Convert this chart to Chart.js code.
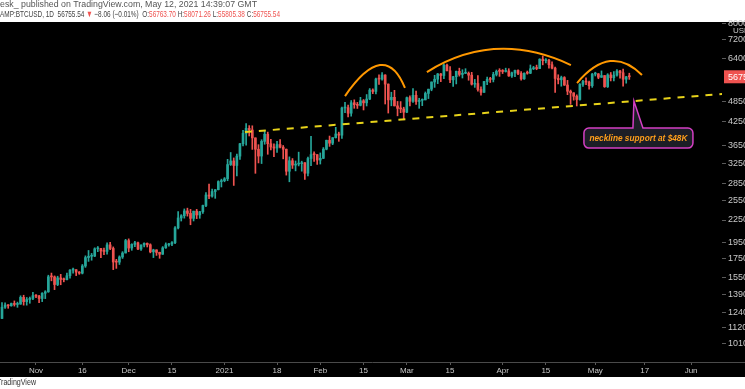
<!DOCTYPE html>
<html>
<head>
<meta charset="utf-8">
<script src="https://cdn.jsdelivr.net/npm/chart.js@4.4.0/dist/chart.umd.min.js"></script>
<style>
  html, body { margin: 0; padding: 0; background: #fff; }
</style>
</head>
<body>
<canvas id="btc" width="745" height="389"></canvas>
<script>
// daily BTCUSD candles 21 Oct 2020 .. 12 May 2021, x = days since 1 Nov 2020
const firstDay = -11;

const opens = [
  11915, 12810, 12990, 12930, 13120, 13040, 13070, 13650, 13280, 13460, 13560,
  13800, 13760, 13550, 14020, 14150, 15590, 15580, 14830, 15480, 15330, 15300, 15700, 16280, 16320, 16070, 15960, 16720, 17650, 17800, 17820, 18680, 18710, 18420, 18370, 19160, 18720, 17150, 17140, 17720, 18180,
  19700, 18770, 19220, 19420, 18650, 19150, 19360, 19170, 18320, 18550, 18250, 18040, 18800, 19170, 19270, 19440, 21380, 22800, 23130, 23860, 23480, 22740, 23820, 23240, 23730, 24710, 26440, 26250, 27040, 27370, 28840,
  29000, 29370, 32190, 32950, 32000, 33990, 36820, 39370, 40670, 40240, 38240, 35540, 34010, 37390, 39160, 36830, 36070, 35810, 36630, 36020, 35540, 30830, 33000, 32080, 32280, 32370, 32570, 30440, 33470, 34320, 34310,
  33140, 33520, 35560, 37660, 36960, 38300, 39220, 38920, 46390, 46480, 44850, 47990, 47400, 47190, 48610, 47960, 49150, 52090, 51620, 55950, 55900, 57410, 54130, 48890, 49710, 47030, 46280, 46110,
  45140, 49600, 48440, 50350, 48370, 48750, 48880, 50970, 52380, 54880, 55860, 57800, 57230, 61180, 59000, 55650, 56780, 58780, 57630, 58050, 58060, 57350, 54100, 54340, 52300, 51320, 55030, 55850, 55790, 57620, 58800,
  58780, 58730, 58960, 57060, 58200, 59130, 57990, 56000, 58090, 58080, 59770, 60000, 59860, 63580, 62960, 63160, 61340, 60010, 56150, 55660, 56470, 53800, 51700, 51160, 50050, 49000, 54020, 55040, 54840, 53560,
  57750, 57830, 56570, 57200, 53250, 57440, 56400, 57360, 58900, 58240, 55860, 56763.70
];
const highs = [
  13200, 13180, 13020, 13160, 13340, 13240, 13790, 13840, 13640, 13680, 14100,
  13900, 13820, 14070, 14250, 15750, 15970, 15680, 15650, 15840, 15470, 15960, 16340, 16480, 16330, 16130, 16880, 17850, 18480, 18130, 18800, 18960, 18750, 18770, 19410, 19480, 18910, 17450, 17850, 18340, 19860,
  19920, 19300, 19590, 19520, 19170, 19420, 19400, 19290, 18630, 18560, 18280, 18950, 19410, 19350, 19570, 21550, 23770, 23290, 24170, 24290, 24100, 23830, 24100, 23800, 24790, 26860, 28390, 27470, 27380, 28990, 29300,
  29600, 33300, 34800, 33600, 34440, 36940, 40180, 41950, 41400, 41350, 38260, 36600, 37790, 40100, 39700, 37900, 36800, 37400, 37850, 36410, 35600, 33830, 33460, 32950, 34880, 32900, 32590, 33800, 38600, 34950, 34340,
  34700, 35930, 37700, 38700, 38320, 40950, 39690, 46700, 48150, 47250, 48680, 48900, 48100, 49700, 49000, 50600, 52600, 52500, 56300, 57500, 58350, 57500, 54200, 51360, 52000, 48400, 48350, 46630,
  49800, 50200, 52600, 51750, 49400, 49200, 51450, 52400, 54900, 57300, 58000, 58000, 61700, 61600, 60600, 56900, 58900, 60000, 59400, 59800, 58550, 58400, 55800, 57200, 53200, 55100, 56600, 56550, 58400, 59300, 59800,
  59450, 60000, 59800, 58500, 59250, 59400, 58650, 58200, 58900, 61250, 60700, 61200, 63750, 64900, 63800, 63550, 62500, 60400, 57500, 57000, 56800, 55450, 52100, 51200, 50500, 54300, 55450, 56400, 55200, 58000,
  58450, 57950, 58950, 57200, 57900, 58350, 58650, 59500, 59200, 59600, 56900, 58071.26
];
const lows = [
  11900, 12700, 12720, 12890, 12900, 12800, 13050, 12980, 12980, 13140, 13450,
  13620, 13200, 13280, 13540, 14100, 15190, 14350, 14720, 14810, 15090, 15280, 15450, 15960, 15710, 15840, 15880, 16570, 17220, 17350, 17760, 18340, 17630, 18000, 18030, 18580, 16330, 16460, 16880, 17550, 18180,
  18330, 18500, 18940, 18580, 18500, 18900, 18900, 18200, 17650, 17900, 17570, 18010, 18730, 19000, 19050, 19300, 21230, 22350, 22770, 23070, 21820, 22360, 22700, 22750, 23460, 24520, 25830, 26070, 25880, 27320, 27850,
  28800, 29000, 32000, 28130, 29900, 33300, 36310, 36500, 38720, 35500, 30420, 32530, 32400, 36700, 34400, 35400, 33850, 34800, 35850, 33400, 30070, 28800, 31390, 30900, 31910, 30840, 29240, 29900, 31980, 32860, 32220,
  32300, 33450, 35400, 36200, 36600, 38200, 37400, 38100, 45000, 43760, 44000, 46300, 46250, 47020, 45800, 47000, 48950, 50900, 50800, 54000, 55500, 47600, 44900, 47050, 47000, 44100, 45000, 43000,
  45000, 47050, 48100, 47500, 46300, 47100, 48880, 49300, 51850, 53000, 54300, 55000, 56100, 58950, 54600, 53300, 54200, 57000, 56300, 57900, 55500, 53800, 53000, 51700, 50400, 51300, 53950, 54700, 54900, 57050, 56900,
  57950, 58500, 56900, 56500, 56800, 57500, 55500, 55800, 57700, 57900, 59450, 59400, 59800, 61300, 62050, 60000, 59700, 51300, 54200, 53400, 53650, 50550, 47500, 48800, 47000, 48800, 53300, 53900, 52350, 53000,
  57050, 56050, 56500, 53000, 52950, 55250, 55300, 56950, 56250, 53400, 54450, 55805.38
];
const closes = [
  12810, 12990, 12930, 13120, 13040, 13070, 13650, 13280, 13460, 13560, 13800,
  13760, 13550, 14020, 14150, 15590, 15580, 14830, 15480, 15330, 15300, 15700, 16280, 16320, 16070, 15960, 16720, 17650, 17800, 17820, 18680, 18710, 18420, 18370, 19160, 18720, 17150, 17140, 17720, 18180, 19700,
  18770, 19220, 19420, 18650, 19150, 19360, 19170, 18320, 18550, 18250, 18040, 18800, 19170, 19270, 19440, 21380, 22800, 23130, 23860, 23480, 22740, 23820, 23240, 23730, 24710, 26440, 26250, 27040, 27370, 28840, 29000,
  29370, 32190, 32950, 32000, 33990, 36820, 39370, 40670, 40240, 38240, 35540, 34010, 37390, 39160, 36830, 36070, 35810, 36630, 36020, 35540, 30830, 33000, 32080, 32280, 32370, 32570, 30440, 33470, 34320, 34310, 33140,
  33520, 35560, 37660, 36960, 38300, 39220, 38920, 46390, 46480, 44850, 47990, 47400, 47190, 48610, 47960, 49150, 52090, 51620, 55950, 55900, 57410, 54130, 48890, 49710, 47030, 46280, 46110, 45140,
  49600, 48440, 50350, 48370, 48750, 48880, 50970, 52380, 54880, 55860, 57800, 57230, 61180, 59000, 55650, 56780, 58780, 57630, 58050, 58060, 57350, 54100, 54340, 52300, 51320, 55030, 55850, 55790, 57620, 58800, 58780,
  58730, 58960, 57060, 58200, 59130, 57990, 56000, 58090, 58080, 59770, 60000, 59860, 63580, 62960, 63160, 61340, 60010, 56150, 55660, 56470, 53800, 51700, 51160, 50050, 49000, 54020, 55040, 54840, 53560, 57750,
  57830, 56570, 57200, 53250, 57440, 56400, 57360, 58900, 58240, 55860, 56760, 56755.54
];

const tickDays = [0, 15, 30, 44, 61, 78, 92, 106, 120, 134, 151, 165, 181, 197, 212];
const tickLabels = ["Nov", "16", "Dec", "15", "2021", "18", "Feb", "15", "Mar", "15", "Apr", "15", "May", "17", "Jun"];
const priceTicks = [80000, 72000, 64000, 48500, 42500, 36500, 32500, 28500, 25500, 22500, 19500, 17500, 15500, 13900, 12400, 11200, 10100];

// drawings on the chart (day, price)
const necklinePts = [{ x: 67.6, y: 39700 }, { x: 222.3, y: 50800 }];
const domes = [
  [[100, 50100], [111.3, 61200], [119.4, 52800]],
  [[126.5, 58500], [149.2, 67900], [173.1, 61200]],
  [[175.1, 54500], [185.8, 62800], [196.1, 57400]]
];
const calloutAt = { x: 193.5, y: 48500 };
const calloutText = "neckline support at $48K";

const UP = "#26a69a", DOWN = "#ef5350";
const FONT = "Liberation Sans, Arial, sans-serif";

const days = opens.map((_, i) => firstDay + i);
const candleColors = closes.map((c, i) => c >= opens[i] ? UP : DOWN);

function drawRuns(ctx, runs, x0, y, width) {
  let total = 0;
  runs.forEach(r => total += ctx.measureText(r[0]).width);
  const s = width / total;
  ctx.save();
  ctx.translate(x0, y);
  ctx.scale(s, 1);
  let x = 0;
  runs.forEach(r => {
    ctx.fillStyle = r[1];
    ctx.fillText(r[0], x, 0);
    x += ctx.measureText(r[0]).width;
  });
  ctx.restore();
}

const decor = {
  id: "decor",
  beforeDraw(chart) {
    const { ctx, width, height } = chart;
    ctx.save();
    ctx.fillStyle = "#ffffff";
    ctx.fillRect(0, 0, width, height);
    ctx.fillStyle = "#000000";
    ctx.fillRect(0, 22, width, 355);
    ctx.restore();
  },
  afterDatasetsDraw(chart) {
    const { ctx, chartArea } = chart;
    const xs = chart.scales.x, ys = chart.scales.y;
    ctx.save();
    ctx.beginPath();
    ctx.rect(chartArea.left, chartArea.top, chartArea.right - chartArea.left, chartArea.bottom - chartArea.top);
    ctx.clip();

    // orange domes
    ctx.strokeStyle = "#ff9800";
    ctx.lineWidth = 2;
    domes.forEach(d => {
      const p = d.map(q => [xs.getPixelForValue(q[0]), ys.getPixelForValue(q[1])]);
      const cx = (4 * p[1][0] - p[0][0] - p[2][0]) / 2;
      const cy = (4 * p[1][1] - p[0][1] - p[2][1]) / 2;
      ctx.beginPath();
      ctx.moveTo(p[0][0], p[0][1]);
      ctx.quadraticCurveTo(cx, cy, p[2][0], p[2][1]);
      ctx.stroke();
    });

    // callout
    const tx = xs.getPixelForValue(calloutAt.x), ty = ys.getPixelForValue(calloutAt.y);
    const bx = tx - 50, by = ty + 27, bw = 109, bh = 20, r = 5;
    ctx.beginPath();
    ctx.moveTo(bx + r, by);
    ctx.lineTo(tx - 1, by);
    ctx.lineTo(tx, ty);
    ctx.lineTo(tx + 9, by);
    ctx.lineTo(bx + bw - r, by);
    ctx.arcTo(bx + bw, by, bx + bw, by + r, r);
    ctx.lineTo(bx + bw, by + bh - r);
    ctx.arcTo(bx + bw, by + bh, bx + bw - r, by + bh, r);
    ctx.lineTo(bx + r, by + bh);
    ctx.arcTo(bx, by + bh, bx, by + bh - r, r);
    ctx.lineTo(bx, by + r);
    ctx.arcTo(bx, by, bx + r, by, r);
    ctx.closePath();
    ctx.fillStyle = "#1c1e26";
    ctx.fill();
    ctx.strokeStyle = "#d43fc4";
    ctx.lineWidth = 1.5;
    ctx.stroke();
    ctx.fillStyle = "#ff9f1a";
    ctx.font = "italic bold 9px " + FONT;
    ctx.textAlign = "center";
    ctx.textBaseline = "middle";
    ctx.fillText(calloutText, bx + bw / 2, by + bh / 2 + 0.5, 98);
    ctx.restore();
  },
  afterDraw(chart) {
    const { ctx, width, chartArea } = chart;
    const ys = chart.scales.y;
    const n = closes.length - 1;
    ctx.save();

    // time axis line
    ctx.strokeStyle = "#4a4a4a";
    ctx.lineWidth = 1;
    ctx.beginPath();
    ctx.moveTo(0, chartArea.bottom + 0.5);
    ctx.lineTo(width, chartArea.bottom + 0.5);
    ctx.stroke();

    // last price label
    const py = ys.getPixelForValue(closes[n]);
    ctx.fillStyle = DOWN;
    ctx.fillRect(chartArea.right + 2, py - 6.5, 30, 13);
    ctx.fillStyle = "#ffffff";
    ctx.font = "9px " + FONT;
    ctx.textBaseline = "middle";
    ctx.textAlign = "left";
    ctx.fillText(closes[n].toFixed(2), chartArea.right + 6, py + 0.5);

    // currency
    ctx.fillStyle = "#c8c8c8";
    ctx.font = "8px " + FONT;
    ctx.fillText("USD", chartArea.right + 11, 31);

    // header
    ctx.font = "9px " + FONT;
    drawRuns(ctx, [["esk_ published on TradingView.com, May 12, 2021 14:39:07 GMT", "#555555"]], 0, 5, 257);
    const dark = "#444444";
    drawRuns(ctx, [
      ["AMP:BTCUSD, 1D  ", dark],
      [closes[n].toFixed(2) + " ", dark],
      ["▼ ", DOWN],
      ["−8.06 (−0.01%)  ", dark],
      ["O:", dark], [opens[n].toFixed(2) + " ", DOWN],
      ["H:", dark], [highs[n].toFixed(2) + " ", DOWN],
      ["L:", dark], [lows[n].toFixed(2) + " ", DOWN],
      ["C:", dark], [closes[n].toFixed(2), DOWN]
    ], 0, 15, 280);

    // footer
    drawRuns(ctx, [["TradingView", "#333333"]], -3, 383, 39);
    ctx.restore();
  }
};

new Chart(document.getElementById("btc").getContext("2d"), {
  data: {
    datasets: [
      {
        type: "line",
        data: necklinePts,
        borderColor: "#e8d31a",
        borderWidth: 2,
        borderDash: [7, 7],
        pointRadius: 0,
        order: 0
      },
      {
        type: "bar",
        data: days.map((d, i) => ({ x: d, y: [opens[i], closes[i]] })),
        backgroundColor: candleColors,
        barThickness: 2,
        minBarLength: 1,
        grouped: false,
        order: 1
      },
      {
        type: "bar",
        data: days.map((d, i) => ({ x: d, y: [lows[i], highs[i]] })),
        backgroundColor: candleColors,
        barThickness: 1,
        grouped: false,
        order: 2
      }
    ]
  },
  options: {
    responsive: false,
    animation: false,
    layout: { padding: { top: 22, bottom: 12, left: 0, right: 0 } },
    plugins: { legend: { display: false }, tooltip: { enabled: false } },
    scales: {
      x: {
        type: "linear",
        offset: false,
        min: -11.65,
        max: 222.0,
        afterBuildTicks: s => { s.ticks = tickDays.map(v => ({ value: v })); },
        afterFit: s => { s.height = 15; },
        ticks: {
          autoSkip: false,
          maxRotation: 0,
          padding: 1,
          color: "#c8c8c8",
          font: { family: FONT, size: 8 },
          callback: (v) => tickLabels[tickDays.indexOf(v)]
        },
        grid: { offset: false, drawOnChartArea: false, tickLength: 3, color: "#5a5a5a" },
        border: { display: false }
      },
      y: {
        type: "logarithmic",
        position: "right",
        min: 8991,
        max: 80850,
        afterBuildTicks: s => { s.ticks = priceTicks.map(v => ({ value: v })); },
        afterFit: s => { s.width = 23; },
        ticks: {
          padding: 2,
          color: "#c8c8c8",
          font: { family: FONT, size: 9 },
          callback: (v) => String(v)
        },
        grid: { drawOnChartArea: false, tickLength: 4, color: "#5a5a5a" },
        border: { display: false }
      }
    }
  },
  plugins: [decor]
});
</script>
</body>
</html>
